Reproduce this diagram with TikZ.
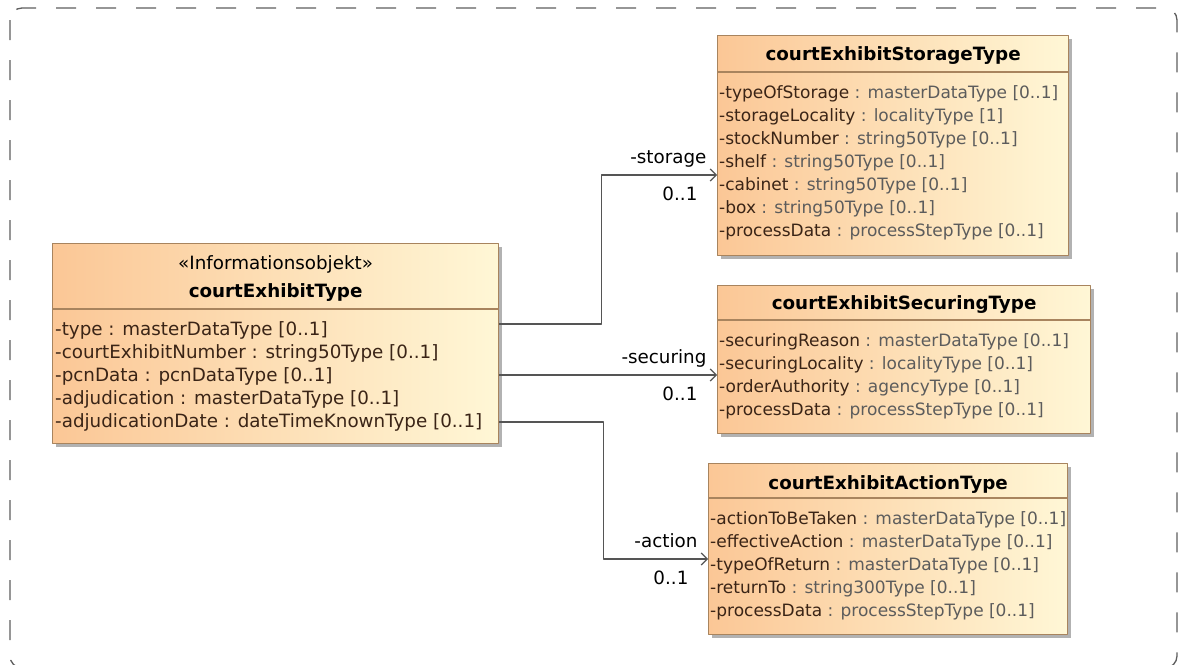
\documentclass[tikz,border=0pt]{standalone}
\usepackage{fontspec}
\setmainfont{DejaVu Sans}
\usetikzlibrary{calc,arrows.meta,shadows}

\definecolor{classleft}{HTML}{FBC796}
\definecolor{classright}{HTML}{FFF7D6}
\definecolor{classborder}{HTML}{A8845E}
\definecolor{attrname}{HTML}{3A2416}
\definecolor{attrtype}{HTML}{5C5C5C}
\definecolor{linkgray}{HTML}{555555}
\definecolor{framegray}{HTML}{5E5E5E}

\newcommand{\umlfont}{\fontsize{18.3}{23}\selectfont}
\newcommand{\umlsmallfont}{\fontsize{17}{23}\selectfont}
\newcommand{\umlattr}[2]{\textcolor{attrname}{#1} \textcolor{attrtype}{: #2}}

\begin{document}
\begin{tikzpicture}[x=1pt, y=-1pt, line join=round,
  umlbox/.style={draw=classborder, line width=1.2pt, left color=classleft, right color=classright,
    drop shadow={shadow xshift=3pt, shadow yshift=-3pt, fill=black!30, opacity=1},
    inner sep=0pt, anchor=north west},
  umlsep/.style={draw=classborder, line width=1.2pt},
  umltitle/.style={font=\umlfont\bfseries, inner sep=0pt, anchor=base},
  umlstereo/.style={font=\umlfont, inner sep=0pt, anchor=base},
  umlattrs/.style={font=\umlfont, align=left, inner sep=0pt, anchor=north west, text=attrname},
  assoc/.style={draw=linkgray, line width=1.2pt, -{Straight Barb[length=6pt,width=12pt,line width=1.2pt]}},
  rolename/.style={font=\umlfont, inner sep=0pt, anchor=base east, xshift=-10pt, yshift=12pt},
  multname/.style={font=\umlfont, inner sep=0pt, anchor=base east, xshift=-19pt, yshift=-25pt}]

  \useasboundingbox (0,0) rectangle (1178,664);
  \clip (0,0) rectangle (1178,664);

  % Diagram frame (dashed, rounded)
  \draw[framegray, line width=1.3pt, dash pattern=on 20pt off 20pt, rounded corners=12pt]
    (10,8) rectangle (1177,668);

  % Class boxes
  \node[umlbox, minimum width=446pt, minimum height=200pt] (cet) at (52,243) {};
  \node[umlbox, minimum width=351pt, minimum height=220pt] (storage) at (717,35) {};
  \node[umlbox, minimum width=373pt, minimum height=148pt] (securing) at (717,285) {};
  \node[umlbox, minimum width=359pt, minimum height=171pt] (action) at (708,463) {};

  % Header separators
  \draw[umlsep] ([yshift=-66pt]cet.north west) -- ([yshift=-66pt]cet.north east);
  \draw[umlsep] ([yshift=-37pt]storage.north west) -- ([yshift=-37pt]storage.north east);
  \draw[umlsep] ([yshift=-35pt]securing.north west) -- ([yshift=-35pt]securing.north east);
  \draw[umlsep] ([yshift=-35pt]action.north west) -- ([yshift=-35pt]action.north east);

  % Headers
  \node[umlstereo] (cet-stereo) at ($(cet.north)+(0,26)$) {«Informationsobjekt»};
  \node[umltitle] (cet-name) at ($(cet.north)+(0,54)$) {courtExhibitType};
  \node[umltitle] (storage-name) at ($(storage.north)+(0,25)$) {courtExhibitStorageType};
  \node[umltitle] (securing-name) at ($(securing.north)+(0,24)$) {courtExhibitSecuringType};
  \node[umltitle] (action-name) at ($(action.north)+(0,26)$) {courtExhibitActionType};

  % Attributes
  \node[umlattrs] (cet-attrs) at ($(cet.north west)+(3,78.5)$) {%
    -type : masterDataType [0..1]\\
    -courtExhibitNumber : string50Type [0..1]\\
    -pcnData : pcnDataType [0..1]\\
    -adjudication : masterDataType [0..1]\\
    -adjudicationDate : dateTimeKnownType [0..1]};
  \node[umlattrs, font=\umlsmallfont] (storage-attrs) at ($(storage.north west)+(2,50)$) {%
    \umlattr{-typeOfStorage}{masterDataType [0..1]}\\
    \umlattr{-storageLocality}{localityType [1]}\\
    \umlattr{-stockNumber}{string50Type [0..1]}\\
    \umlattr{-shelf}{string50Type [0..1]}\\
    \umlattr{-cabinet}{string50Type [0..1]}\\
    \umlattr{-box}{string50Type [0..1]}\\
    \umlattr{-processData}{processStepType [0..1]}};
  \node[umlattrs, font=\umlsmallfont] (securing-attrs) at ($(securing.north west)+(2,48)$) {%
    \umlattr{-securingReason}{masterDataType [0..1]}\\
    \umlattr{-securingLocality}{localityType [0..1]}\\
    \umlattr{-orderAuthority}{agencyType [0..1]}\\
    \umlattr{-processData}{processStepType [0..1]}};
  \node[umlattrs, font=\umlsmallfont] (action-attrs) at ($(action.north west)+(2,48)$) {%
    \umlattr{-actionToBeTaken}{masterDataType [0..1]}\\
    \umlattr{-effectiveAction}{masterDataType [0..1]}\\
    \umlattr{-typeOfReturn}{masterDataType [0..1]}\\
    \umlattr{-returnTo}{string300Type [0..1]}\\
    \umlattr{-processData}{processStepType [0..1]}};

  % Associations
  \draw[assoc] ([yshift=-81pt]cet.north east) -- ++(102,0) |- ([yshift=-140pt]storage.north west)
    node[rolename] (storage-role) {-storage} node[multname] (storage-mult) {0..1};
  \draw[assoc] ([yshift=-132pt]cet.north east) -- ([yshift=-90pt]securing.north west)
    node[rolename] (securing-role) {-securing} node[multname] (securing-mult) {0..1};
  \draw[assoc] ([yshift=-179pt]cet.north east) -- ++(104,0) |- ([yshift=-96pt]action.north west)
    node[rolename] (action-role) {-action} node[multname] (action-mult) {0..1};

\end{tikzpicture}
\end{document}
